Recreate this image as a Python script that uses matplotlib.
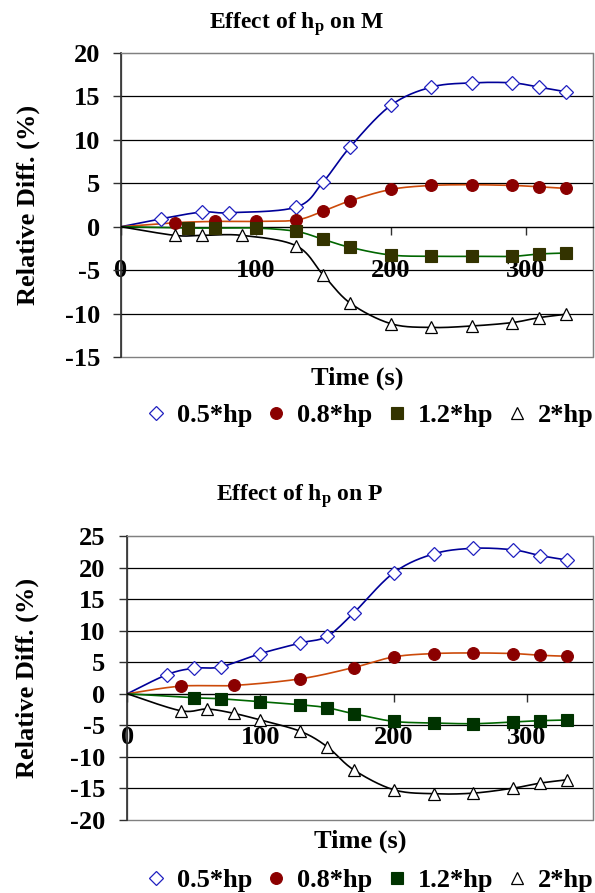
import numpy as np
import matplotlib
matplotlib.use("Agg")
import matplotlib.pyplot as plt
from matplotlib.patches import Rectangle

plt.rcParams['font.family'] = ['Liberation Serif', 'DejaVu Serif']
plt.rcParams['font.weight'] = 'bold'
plt.rcParams['mathtext.fontset'] = 'custom'
plt.rcParams['mathtext.rm'] = 'Liberation Serif:bold'
plt.rcParams['mathtext.bf'] = 'Liberation Serif:bold'
plt.rcParams['mathtext.it'] = 'Liberation Serif:bold'

labels = ["0.5*hp", "0.8*hp", "1.2*hp", "2*hp"]

# ---- Effect of hp on M ----
m_x05 = [0, 30, 60, 80, 130, 150, 170, 200, 230, 260, 290, 310, 330]
m_y05 = [0, 0.92, 1.69, 1.61, 2.26, 5.18, 9.2, 13.96, 16.07, 16.56, 16.56, 16.07, 15.53]
m_x08 = [0, 40, 70, 100, 130, 150, 170, 200, 230, 260, 290, 310, 330]
m_y08 = [0, 0.46, 0.61, 0.61, 0.77, 1.8, 2.99, 4.29, 4.75, 4.83, 4.75, 4.6, 4.41]
m_x12 = [0, 50, 70, 100, 130, 150, 170, 200, 230, 260, 290, 310, 330]
m_y12 = [0, -0.15, -0.15, -0.15, -0.54, -1.46, -2.38, -3.26, -3.41, -3.41, -3.41, -3.14, -3.03]
m_x2 = [0, 40, 60, 90, 130, 150, 170, 200, 230, 260, 290, 310, 330]
m_y2 = [0, -1.0, -1.0, -1.0, -2.2, -5.56, -8.8, -11.16, -11.6, -11.43, -11.04, -10.47, -10.08]

# ---- Effect of hp on P ----
p_x05 = [0, 30, 50, 70, 100, 130, 150, 170, 200, 230, 260, 290, 310, 330]
p_y05 = [0, 3.05, 4.05, 4.26, 6.37, 8.05, 9.1, 12.8, 19.16, 22.16, 23.05, 22.8, 21.9, 21.2]
p_x08 = [0, 40, 80, 130, 170, 200, 230, 260, 290, 310, 330]
p_y08 = [0, 1.21, 1.32, 2.37, 4.16, 5.84, 6.37, 6.47, 6.37, 6.1, 5.95]
p_x12 = [0, 50, 70, 100, 130, 150, 170, 200, 230, 260, 290, 310, 330]
p_y12 = [0, -0.63, -0.79, -1.26, -1.74, -2.21, -3.16, -4.37, -4.63, -4.74, -4.47, -4.26, -4.16]
p_x2 = [0, 40, 60, 80, 100, 130, 150, 170, 200, 230, 260, 290, 310, 330]
p_y2 = [0, -2.68, -2.42, -3.1, -4.16, -5.95, -8.37, -12.05, -15.2, -15.84, -15.74, -14.95, -14.16, -13.63]

x_ticks = [0, 100, 200, 300]
m_yticks = [-15, -10, -5, 0, 5, 10, 15, 20]
p_yticks = [-20, -15, -10, -5, 0, 5, 10, 15, 20, 25]


def smooth(xs, ys, n=24):
    """Catmull-Rom smoothing of the line through the data points (like Excel smoothed lines)."""
    P = np.column_stack([xs, ys]).astype(float)
    P = np.vstack([P[0], P, P[-1]])
    out = []
    t = np.linspace(0, 1, n, endpoint=False)
    for i in range(1, len(P) - 2):
        p0, p1, p2, p3 = P[i - 1], P[i], P[i + 1], P[i + 2]
        m1 = (p2 - p0) / 2.0
        m2 = (p3 - p1) / 2.0
        h00 = 2 * t**3 - 3 * t**2 + 1
        h10 = t**3 - 2 * t**2 + t
        h01 = -2 * t**3 + 3 * t**2
        h11 = t**3 - t**2
        seg = (h00[:, None] * p1 + h10[:, None] * m1 + h01[:, None] * p2 + h11[:, None] * m2)
        out.append(seg)
    out.append(P[-2][None, :])
    out = np.vstack(out)
    return out[:, 0], out[:, 1]


fig = plt.figure(figsize=(5.95, 8.93), dpi=100)
FS = 19

styles = [
    dict(line='#000099', marker='D', mfc='white', mec='#2020c0', ms=7, mew=0.9),
    dict(line='#cc4a0a', marker='o', mfc='#8b0000', mec='#8b0000', ms=8.5, mew=0.8),
    dict(line='#006600', marker='s', mfc=None, mec=None, ms=8, mew=0.8),
    dict(line='#000000', marker='^', mfc='white', mec='black', ms=8, mew=0.9),
]


def make(ax_rect, series, yticks, ylim, title, title_xy, sq_color, lab_coords, leg_y, tickpad):
    ax = fig.add_axes(ax_rect)
    handles = []
    for (xs, ys), st, lab in zip(series, styles, labels):
        sx, sy = smooth(xs, ys)
        ax.plot(sx, sy, color=st['line'], lw=1.2, zorder=3)
        mfc = st['mfc'] if st['mfc'] else sq_color
        mec = st['mec'] if st['mec'] else sq_color
        h, = ax.plot(xs[1:], ys[1:], ls='none', marker=st['marker'], ms=st['ms'],
                     mfc=mfc, mec=mec, mew=st['mew'], zorder=4, label=lab)
        handles.append(h)
    ax.set_xlim(0, 350)
    ax.set_ylim(*ylim)
    ax.set_yticks(yticks)
    ax.set_xticks(x_ticks)
    ax.set_yticklabels([str(v) for v in yticks])
    ax.set_xticklabels([str(v) for v in x_ticks])
    for v in yticks:
        if v not in (0, ylim[0], ylim[1]):
            ax.axhline(v, color='black', lw=0.9, zorder=1)
    ax.spines['bottom'].set_position(('data', 0))
    ax.spines['bottom'].set_color('black')
    ax.spines['bottom'].set_linewidth(1.0)
    ax.spines['left'].set_color('#303030')
    ax.spines['left'].set_linewidth(1.2)
    ax.spines['top'].set_color('#808080')
    ax.spines['right'].set_color('#808080')
    ax.add_patch(Rectangle((0, 0), 1, 1, transform=ax.transAxes, fill=False,
                           edgecolor='#808080', lw=1.0, zorder=0.5, clip_on=False))
    ax.tick_params(axis='y', direction='out', length=6, width=1, color='#303030',
                   labelsize=FS, pad=tickpad)
    ax.tick_params(axis='x', direction='out', length=6, width=1, color='#303030',
                   labelsize=FS, pad=17)
    for t in ax.get_xticklabels() + ax.get_yticklabels():
        t.set_fontweight('bold')
    ax.set_xlabel('Time (s)', fontsize=FS, fontweight='bold')
    ax.xaxis.set_label_coords(0.5, lab_coords[1])
    ax.xaxis.label.set_va('center')
    ax.set_ylabel('Relative Diff. (%)', fontsize=FS, fontweight='bold')
    ax.yaxis.set_label_coords(lab_coords[0], 0.5)
    ax.yaxis.label.set_va('center')
    fig.text(title_xy[0], title_xy[1], title, fontsize=17, fontweight='bold',
             ha='center', va='center')
    fig.legend(handles=handles, labels=labels, loc='center', ncol=4,
               bbox_to_anchor=(369 / 595, 1 - leg_y / 893), frameon=False,
               prop={'weight': 'bold', 'size': FS},
               handlelength=0.9, handletextpad=0.35, columnspacing=0.45,
               borderaxespad=0, borderpad=0)
    return ax


make([121 / 595, 1 - 357 / 893, 472 / 595, 304 / 893],
     [(m_x05, m_y05), (m_x08, m_y08), (m_x12, m_y12), (m_x2, m_y2)],
     m_yticks, (-15, 20), r'Effect of h$_{\mathrm{p}}$ on M', (297 / 595, 1 - 24 / 893),
     '#333300', (-0.197, -0.069), 415, 9)

make([127.3 / 595, 1 - 820 / 893, 466 / 595, 284 / 893],
     [(p_x05, p_y05), (p_x08, p_y08), (p_x12, p_y12), (p_x2, p_y2)],
     p_yticks, (-20, 25), r'Effect of h$_{\mathrm{p}}$ on P', (300 / 595, 1 - 496 / 893),
     '#003300', (-0.214, -0.074), 880, 10)

fig.savefig('out.png', dpi=100)
